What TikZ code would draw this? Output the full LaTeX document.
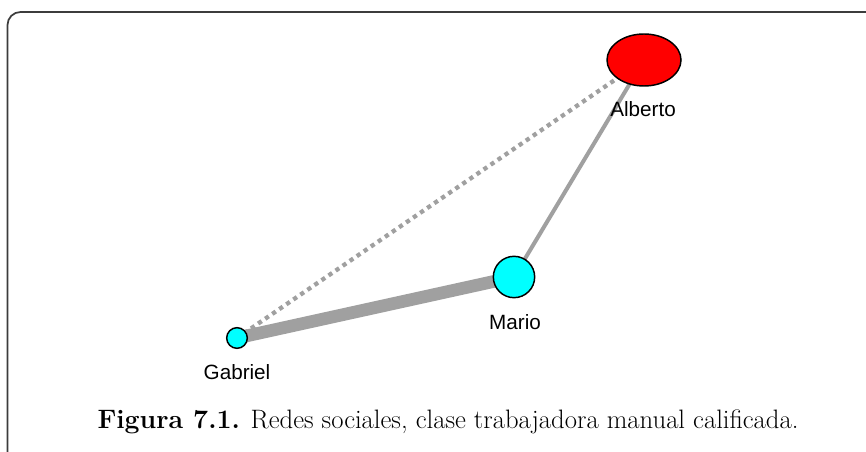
\documentclass[tikz,border=0pt]{standalone}
\usepackage{fontspec}
\newfontfamily\labelfont{Liberation Sans}
\usetikzlibrary{shapes.geometric}
\definecolor{edgegray}{RGB}{160,160,160}
\definecolor{framegray}{RGB}{60,60,60}
\definecolor{nodecyan}{RGB}{0,255,255}
\definecolor{nodered}{RGB}{255,0,0}
\tikzset{
  px/.style={x=0.75pt,y=-0.75pt},
  actor/.style={draw=black,line width=1.1pt,inner sep=0pt,outer sep=0pt},
  actorlabel/.style={font=\labelfont\fontsize{15.5}{18}\selectfont,anchor=base,inner sep=0pt},
  tie/.style={draw=edgegray,line width=3pt},
  strongtie/.style={draw=edgegray,line width=9.5pt},
  weaktie/.style={draw=edgegray,line width=3.2pt,dash pattern=on 3.2pt off 3.2pt},
  framebox/.style={draw=framegray,line width=1.3pt,rounded corners=9.75pt}
}
\begin{document}
\begin{tikzpicture}[px]
\useasboundingbox (0,0) rectangle (866,452);
\clip (0,0) rectangle (866,452);
\fill[white] (0,0) rectangle (866,452);
\coordinate (fbl) at (7.5,457);
\coordinate (ftl) at (7.5,12);
\coordinate (ftr) at (900,12);
\draw[framebox] (fbl) -- (ftl) -- (ftr);
% node centres
\coordinate (cA) at (644,60);
\coordinate (cM) at (514,277);
\coordinate (cG) at (237,338);
% edges
\draw[weaktie] (cG) -- (cA);
\draw[tie] (cM) -- (cA);
\draw[strongtie] (cG) -- (cM);
% nodes
\node[actor,ellipse,fill=nodered,minimum width=55.5pt,minimum height=39pt] (alberto) at (cA) {};
\node[actor,circle,fill=nodecyan,minimum size=31pt] (mario) at (cM) {};
\node[actor,circle,fill=nodecyan,minimum size=15.5pt] (gabriel) at (cG) {};
% labels
\node[actorlabel] (lalberto) at (643,117) {Alberto};
\node[actorlabel] (lmario) at (515,329) {Mario};
\node[actorlabel] (lgabriel) at (237,379) {Gabriel};
% caption
\node[anchor=base,inner sep=0pt,font=\fontsize{20}{24}\selectfont] (caption) at (448,428)
  {\textbf{Figura \oldstylenums{7.1}.} Redes sociales, clase trabajadora manual calificada.};
\end{tikzpicture}
\end{document}
